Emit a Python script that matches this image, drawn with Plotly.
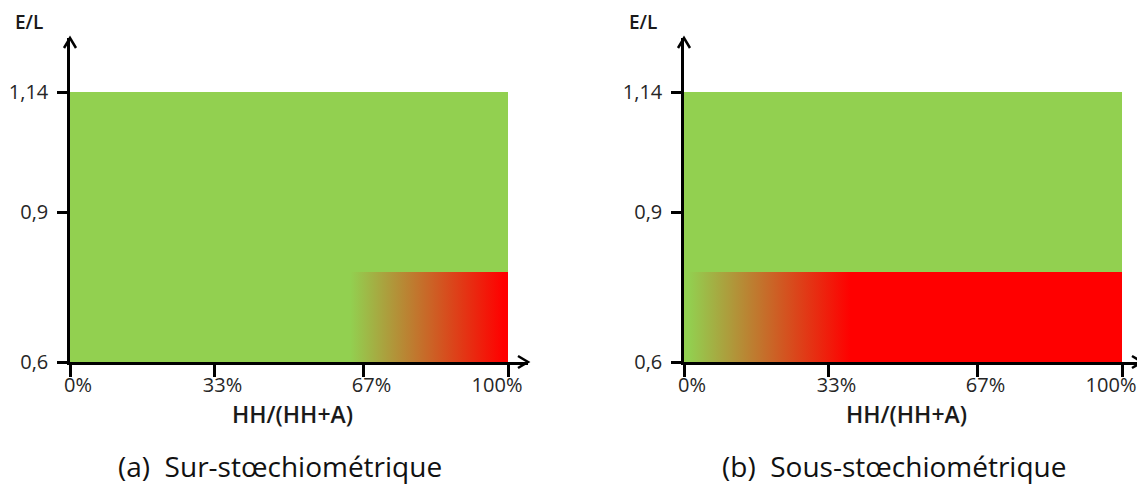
import plotly.graph_objects as go

# ---- data ----
x_tick_vals = [0, 33, 67, 100]
x_tick_text = ["0%", "33%", "67%", "100%"]
y_tick_vals = [0.6, 0.9, 1.14]
y_tick_text = ["0,6", "0,9", "1,14"]

green_x = [0, 100]          # HH/(HH+A) span of the green zone (%)
green_y = [0.6, 1.14]       # E/L span of the green zone

# red (gradient) zone, panel (a) sur-stoechiometrique
red_a_x = [64, 100]
red_a_grad = [64, 99]       # gradient green -> red
# red (gradient) zone, panel (b) sous-stoechiometrique
red_b_x = [1, 100]
red_b_grad = [1, 38]
red_y = [0.6, 0.78]

captions = ["(a)  Sur-stœchiométrique", "(b)  Sous-stœchiométrique"]
x_title = "HH/(HH+A)"
y_title = "E/L"

GREEN = "#92D050"
RED = "#FF0000"
FONT = "Open Sans"
OFF = 8                      # default page body margin
W, H = 1145 - OFF, 497 - OFF

def rect(xs, ys):
    return [xs[0], xs[1], xs[1], xs[0], xs[0]], [ys[0], ys[0], ys[1], ys[1], ys[0]]

fig = go.Figure()

# main axes x/x2 carry the green zone; overlay axes x3/x4 (same range) carry the red zone
panels = [
    dict(xa="x", xo="x3", ya="y", red_x=red_a_x, grad=red_a_grad),
    dict(xa="x2", xo="x4", ya="y2", red_x=red_b_x, grad=red_b_grad),
]

for p in panels:
    gx, gy = rect(green_x, green_y)
    fig.add_trace(go.Scatter(x=gx, y=gy, xaxis=p["xa"], yaxis=p["ya"], mode="lines",
                             fill="toself", fillcolor=GREEN, line=dict(width=0),
                             hoverinfo="skip", showlegend=False))
    rx, ry = rect(p["red_x"], red_y)
    fig.add_trace(go.Scatter(x=rx, y=ry, xaxis=p["xo"], yaxis=p["ya"], mode="lines",
                             fill="toself",
                             fillgradient=dict(type="horizontal",
                                               colorscale=[[0, GREEN], [1, RED]],
                                               start=p["grad"][0], stop=p["grad"][1]),
                             line=dict(width=0), hoverinfo="skip", showlegend=False))

# layout geometry (window pixels, converted to figure pixels with OFF)
left_px = [70 - OFF, 528 - OFF]
right_px = [684 - OFF, 1142 - OFF]
y_px = [38 - OFF, 362 - OFF]   # top, bottom
x_scale = 4.38     # px per %
y_scale = 500.0    # px per unit E/L
ymax = 0.6 + (y_px[1] - y_px[0]) / y_scale
y_dom = [(H - y_px[1]) / H, (H - y_px[0]) / H]

tickfont = dict(family=FONT, size=20, color="#262626")
axis_common = dict(showline=True, linecolor="black", linewidth=2.5, showgrid=False,
                   zeroline=False, ticks="outside", tickcolor="black", tickwidth=2.5,
                   tickfont=tickfont, fixedrange=True, automargin=False,
                   ticklabeloverflow="allow")

layout = dict(width=W, height=H, margin=dict(l=0, r=0, t=0, b=0, pad=0),
              paper_bgcolor="white", plot_bgcolor="white", showlegend=False)

# the reference labels sit a little right of their ticks, except the last one
# which sits left of its tick: the overlay axis carries the last tick
for i, px in enumerate([left_px, right_px]):
    xmax = (px[1] - px[0]) / x_scale
    n = str(i + 1) if i else ""
    ov = str(i + 3)
    dom = [px[0] / W, px[1] / W]
    layout["xaxis" + n] = dict(axis_common, domain=dom, range=[0, xmax],
                               anchor="y" + n, tickvals=x_tick_vals[:-1],
                               ticktext=x_tick_text[:-1], ticklen=12,
                               ticklabelstandoff=-9, ticklabelshift=8)
    layout["xaxis" + ov] = dict(axis_common, domain=dom, range=[0, xmax],
                                anchor="y" + n, overlaying="x" + n,
                                tickvals=x_tick_vals[-1:], ticktext=x_tick_text[-1:],
                                ticklen=12, ticklabelstandoff=-9, ticklabelshift=-11)
    layout["yaxis" + n] = dict(axis_common, domain=y_dom, range=[0.6, ymax],
                               anchor="x" + n, tickvals=y_tick_vals,
                               ticktext=y_tick_text, ticklen=10, ticklabelstandoff=5)
fig.update_layout(**layout)

# arrow heads (chevrons) at axis ends, in paper coordinates so they are not clipped
for px in [left_px, right_px]:
    fig.add_shape(type="path", xref="paper", yref="paper", xsizemode="pixel",
                  ysizemode="pixel", xanchor=px[1] / W, yanchor=y_dom[0],
                  path="M-10,6 L0,0 L-10,-6", line=dict(color="black", width=2.5))
    fig.add_shape(type="path", xref="paper", yref="paper", xsizemode="pixel",
                  ysizemode="pixel", xanchor=px[0] / W, yanchor=y_dom[1],
                  path="M-6,-10 L0,0 L6,-10", line=dict(color="black", width=2.5))

# texts (window pixel centres)
ylab_pos = [29, 643]
xlab_pos = [292, 906]
cap_pos = [280, 894]
for i in range(2):
    fig.add_annotation(text=y_title, xref="paper", yref="paper", x=(ylab_pos[i] - OFF) / W,
                       y=1 - (22 - OFF) / H, showarrow=False, xanchor="center",
                       yanchor="middle",
                       font=dict(family=FONT, size=19, color="#1a1a1a", weight=600))
    fig.add_annotation(text=x_title, xref="paper", yref="paper", x=(xlab_pos[i] - OFF) / W,
                       y=1 - (414 - OFF) / H, showarrow=False, xanchor="center",
                       yanchor="middle",
                       font=dict(family=FONT, size=23, color="#1a1a1a", weight=600))
    fig.add_annotation(text=captions[i], xref="paper", yref="paper", x=(cap_pos[i] - OFF) / W,
                       y=1 - (466 - OFF) / H, showarrow=False, xanchor="center",
                       yanchor="middle",
                       font=dict(family=FONT, size=28, color="#111111"))

fig.write_html("out.html")
